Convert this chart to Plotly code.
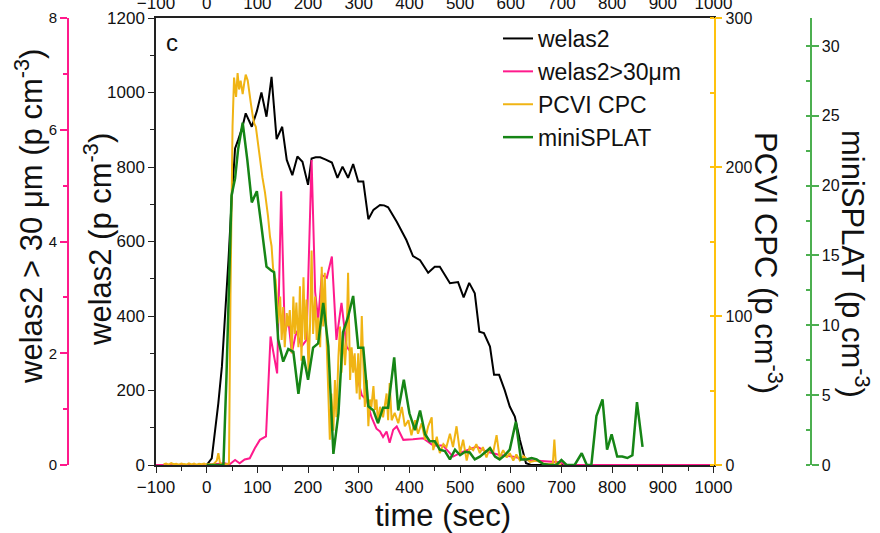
import plotly.graph_objects as go

# ---------------- data ----------------
welas2_t = [-100, -50, 0, 10, 16, 23, 30, 36, 43, 49, 56, 62, 70, 77, 89, 99, 108, 118, 128, 138,
            144, 149, 158, 169, 179, 189, 200, 207, 215, 224, 235, 247, 258, 268, 279, 289, 299,
            309, 319, 329, 342, 350, 358, 375, 394, 407, 421, 437, 450, 460, 480, 496, 507, 518,
            529, 538, 547, 559, 567, 577, 588, 598, 608, 618, 630, 640, 700, 800, 900, 1000]
welas2_v = [0, 0, 0, 18, 85, 166, 264, 389, 550, 703, 850, 872, 905, 944, 908, 950, 1000, 935, 1042, 875,
            895, 908, 819, 778, 828, 814, 752, 823, 826, 826, 820, 812, 771, 801, 771, 808, 761,
            761, 660, 685, 698, 697, 692, 653, 604, 561, 550, 516, 532, 532, 488, 491, 450, 489,
            461, 358, 354, 318, 242, 242, 201, 157, 130, 67, 5, 0, 0, 0, 0, 0]

big_t = [-100, -50, 0, 20, 35, 45, 56, 65, 75, 85, 95, 105, 117, 126, 132, 139, 147, 154, 161, 168,
         177, 187, 197, 207, 214, 220, 227, 237, 247, 256, 266, 276, 286, 296, 306, 316, 325, 335,
         342, 348, 355, 361, 368, 375, 388, 407, 427, 447, 466, 486, 506, 533, 552, 578, 605, 631,
         664, 697, 710, 800, 900, 1000]
big_v = [0, 0, 0, 0.02, 0.03, 0.01, 0.09, 0.03, 0.1, 0.12, 0.3, 0.45, 0.51, 2.3, 2.0, 1.64, 4.9, 2.36, 2.6, 2.0,
         2.4, 2.12, 2.24, 5.46, 3.1, 2.6, 3.4, 3.35, 3.73, 2.24, 2.9, 2.12, 2.0, 1.6, 1.25, 1.16, 0.86, 0.65,
         0.6, 0.5, 0.6, 0.4, 0.63, 0.69, 0.45, 0.46, 0.48, 0.35, 0.35, 0.15, 0.24, 0.33, 0.24, 0.18, 0.15, 0.09,
         0.07, 0.05, 0, 0, 0, 0]

cpc_t = [-85, -80, -75, -70, -65, -60, -55, -50, -45, -40, -35, -30, -25, -20, -15, -10, -5, 0, 5, 10,
         15, 20, 23, 26, 29, 33, 38, 44, 47, 51, 54, 58, 61, 64, 67, 71, 74, 77, 81, 84,
         87, 91, 94, 97, 101, 104, 107, 110, 115, 118, 121, 125, 128, 131, 136, 138, 141, 145, 148, 151,
         154, 158, 161, 164, 168, 171, 174, 177, 181, 184, 187, 191, 194, 197, 201, 204, 207, 210, 214, 217,
         220, 224, 227, 230, 233, 237, 240, 243, 246, 250, 253, 256, 260, 263, 266, 269, 273, 276, 279, 283,
         286, 289, 292, 296, 299, 302, 306, 309, 312, 316, 319, 322, 325, 329, 332, 335, 338, 342, 348, 355,
         358, 361, 365, 371, 378, 385, 391, 398, 404, 411, 417, 424, 431, 437, 444, 447, 454, 460, 467, 473,
         480, 486, 493, 500, 506, 513, 519, 526, 532, 539, 545, 552, 559, 565, 572, 578, 585, 592, 598, 605,
         611, 618, 625, 638, 651, 664, 675, 683, 686, 689, 695, 700]
cpc_v = [0.5, 1, 0.3, 1.2, 0.5, 0.8, 0.2, 1, 0.6, 0.3, 1.1, 0.4, 0.9, 0.2, 0.8, 0.5, 1, 0.3, 0.7, 0.2,
         1, 3, 8, 2, 0.5, 0, 0.5, 1, 115, 227, 260, 247, 263, 252, 258, 249, 256, 262, 258, 252,
         243, 234, 229, 227, 216, 207, 198, 193, 183, 176, 167, 153, 147, 132, 124, 115, 95, 113, 84, 106,
         79, 102, 93, 104, 75, 113, 88, 109, 79, 120, 70, 126, 84, 111, 62, 95, 144, 88, 113, 84,
         99, 79, 133, 93, 129, 79, 39, 17, 48, 23, 57, 32, 73, 93, 62, 88, 67, 84, 129, 57,
         79, 62, 75, 48, 75, 44, 100, 62, 39, 57, 26, 44, 39, 53, 37, 44, 28, 39, 32, 48,
         30, 55, 30, 35, 28, 39, 26, 30, 20, 30, 21, 28, 17, 26, 32, 10, 19, 8, 14, 12,
         21, 12, 26, 8, 17, 3, 12, 10, 14, 8, 12, 5, 12, 8, 20, 5, 10, 5, 8, 3,
         7, 3, 6, 2, 3, 1, 0.5, 1, 17, 1, 0.5, 0]

splat_t = [0, 20, 33, 39, 45, 49, 56, 62, 71, 80, 89, 99, 108, 118, 128, 133, 141, 151, 161, 171,
           181, 191, 200, 210, 220, 230, 240, 250, 260, 269, 279, 289, 299, 309, 319, 329, 338, 348, 358, 370,
           378, 389, 400, 411, 421, 431, 440, 450, 460, 470, 480, 490, 500, 510, 519, 529, 539, 549, 559, 569,
           578, 588, 598, 610, 620, 631, 641, 651, 664, 677, 690, 700, 710, 726, 740, 750, 759, 769, 781, 790,
           799, 810, 820, 830, 840, 849, 860]
splat_v = [0, 0, 0, 6.3, 14.7, 19.3, 20.5, 22.6, 24.5, 21.9, 18.8, 19.6, 17.1, 14.2, 13.9, 13.8, 9.0, 7.4, 8.3, 8.1,
           5.1, 7.8, 6.1, 8.4, 8.7, 11.6, 8.5, 0.8, 3.7, 9.5, 10.6, 12.1, 8.4, 8.4, 4.2, 3.9, 3.0, 4.1, 4.1, 7.7,
           3.9, 6.1, 3.7, 2.5, 3.9, 2.2, 1.7, 1.7, 1.1, 1.0, 0.4, 1.1, 0.7, 0.95, 0.9, 0.4, 0.6, 0.9, 1.2, 0.6,
           0.4, 0.7, 1.1, 3.1, 0.4, 0.4, 0.5, 0.4, 0.07, 0, 0, 0.36, 0, 0, 0.84, 0, 0, 3.5, 4.7, 1.1,
           2.2, 0.6, 0.6, 0.5, 0.7, 4.5, 1.3]

x_ticks = list(range(-100, 1001, 100))

# ---------------- style ----------------
W, H = 880, 533
X0, X1 = 156, 713.5      # plot area, px
Y0, Y1 = 18, 465
FONT = "Liberation Sans, Arial, sans-serif"
C_BLACK = "#000000"
C_PINK = "#FF1A8C"
C_YEL = "#F0B414"
C_GRN = "#168516"
C_YEL_AX = "#FFC20E"
C_GRN_AX = "#4CAF50"


def px_x(X):
    return X / W


def px_y(Y):
    return (Y1 - Y) / (Y1 - Y0)


fig = go.Figure()
fig.add_trace(go.Scatter(x=welas2_t, y=welas2_v, name="welas2", mode="lines",
                         line=dict(color=C_BLACK, width=2), yaxis="y"))
fig.add_trace(go.Scatter(x=big_t, y=big_v, name="welas2>30μm", mode="lines",
                         line=dict(color=C_PINK, width=2), yaxis="y2"))
fig.add_trace(go.Scatter(x=cpc_t, y=cpc_v, name="PCVI CPC", mode="lines",
                         line=dict(color=C_YEL, width=2), yaxis="y3"))
fig.add_trace(go.Scatter(x=splat_t, y=splat_v, name="miniSPLAT", mode="lines",
                         line=dict(color=C_GRN, width=2.5), yaxis="y4"))
# invisible carrier so the top time axis is drawn
fig.add_trace(go.Scatter(x=welas2_t, y=welas2_v, xaxis="x2", yaxis="y", mode="lines",
                         line=dict(width=0, color="rgba(0,0,0,0)"), showlegend=False,
                         hoverinfo="skip"))

tickfont = dict(family=FONT, size=17, color="#111111")
tickfont_p = dict(family=FONT, size=15, color="#111111")
tickfont_r = dict(family=FONT, size=16, color="#111111")

fig.update_layout(
    width=W, height=H,
    margin=dict(l=0, r=0, t=Y0, b=H - Y1, autoexpand=False),
    paper_bgcolor="white", plot_bgcolor="white",
    font=dict(family=FONT, color="#111111"),
    showlegend=True,
    legend=dict(x=px_x(498), y=px_y(17), xanchor="left", yanchor="top",
                font=dict(family=FONT, size=23, color="#111111"),
                bgcolor="rgba(0,0,0,0)", tracegroupgap=0),
    xaxis=dict(domain=[X0 / W, X1 / W], range=[-100, 1000], tickvals=x_ticks,
               ticks="outside", ticklen=6, tickwidth=1.3, tickcolor="#222",
               minor=dict(dtick=50, tick0=0, ticks="outside", ticklen=4, tickcolor="#222"),
               showline=True, linecolor="#222", linewidth=1.5, showgrid=False, zeroline=False,
               tickfont=tickfont, anchor="y", layer="below traces", automargin=False),
    xaxis2=dict(overlaying="x", side="top", anchor="y", range=[-100, 1000], tickvals=x_ticks,
                ticks="", showline=True, linecolor="#222", linewidth=1.5, showgrid=False,
                zeroline=False, tickfont=tickfont, automargin=False),
    yaxis=dict(range=[0, 1200], dtick=200, ticks="outside", ticklen=6, tickwidth=1.3,
               tickcolor="#222", minor=dict(dtick=100, ticks="outside", ticklen=4, tickcolor="#222"),
               showline=True, linecolor="#222", linewidth=1.5, showgrid=False, zeroline=False,
               tickfont=tickfont, anchor="x", side="left", automargin=False),
    yaxis2=dict(overlaying="y", anchor="free", position=68 / W, side="left", range=[0, 8], dtick=2,
                ticks="outside", ticklen=7, tickwidth=1.5, tickcolor=C_PINK,
                minor=dict(dtick=1, ticks="outside", ticklen=4, tickcolor=C_PINK),
                showline=True, linecolor=C_PINK, linewidth=1.8, showgrid=False, zeroline=False,
                tickfont=tickfont_p, automargin=False),
    yaxis3=dict(overlaying="y", anchor="x", side="right", range=[0, 300], dtick=100,
                ticks="outside", ticklen=7, tickwidth=1.5, tickcolor=C_YEL_AX,
                minor=dict(dtick=50, ticks="inside", ticklen=4, tickcolor=C_YEL_AX),
                showline=True, linecolor=C_YEL_AX, linewidth=1.8, showgrid=False, zeroline=False,
                tickfont=tickfont_r, automargin=False),
    yaxis4=dict(overlaying="y", anchor="free", position=810.7 / W, side="right", range=[0, 32],
                dtick=5, ticks="outside", ticklen=7, tickwidth=1.5, tickcolor=C_GRN_AX,
                minor=dict(dtick=2.5, ticks="inside", ticklen=4, tickcolor=C_GRN_AX),
                showline=True, linecolor=C_GRN_AX, linewidth=1.8, showgrid=False, zeroline=False,
                tickfont=tickfont_r, automargin=False),
)

title_font = dict(family=FONT, size=31, color="#111111")
annos = [
    dict(text="time (sec)", x=px_x(443), y=px_y(515), textangle=0),
    dict(text="welas2 > 30 μm (p cm<sup>-3</sup>)", x=px_x(29), y=px_y(217), textangle=-90),
    dict(text="welas2 (p cm<sup>-3</sup>)", x=px_x(98), y=px_y(240), textangle=-90),
    dict(text="PCVI CPC (p cm<sup>-3</sup>)", x=px_x(768), y=px_y(263), textangle=90),
    dict(text="miniSPLAT (p cm<sup>-3</sup>)", x=px_x(855), y=px_y(264), textangle=90),
]
for a in annos:
    fig.add_annotation(xref="paper", yref="paper", showarrow=False, xanchor="center",
                       yanchor="middle", font=title_font, **a)
fig.add_annotation(text="c", xref="paper", yref="paper", x=px_x(172), y=px_y(42),
                   showarrow=False, xanchor="center", yanchor="middle",
                   font=dict(family=FONT, size=24, color="#111111"))

fig.write_html("out.html", config={"displayModeBar": False})
